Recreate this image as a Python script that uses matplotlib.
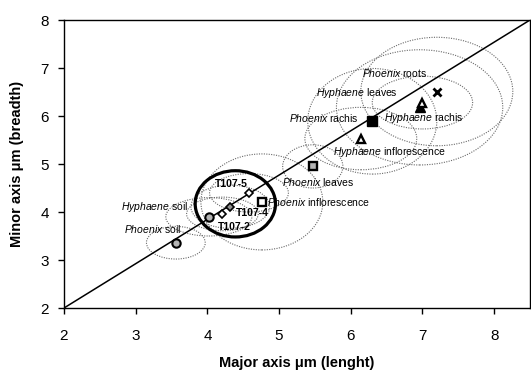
import matplotlib
matplotlib.use("Agg")
import matplotlib.pyplot as plt
from matplotlib.patches import Ellipse

plt.rcParams['font.family'] = ['Liberation Sans', 'DejaVu Sans']
plt.rcParams['mathtext.fontset'] = 'custom'
plt.rcParams['mathtext.it'] = 'Liberation Sans:italic'
plt.rcParams['mathtext.rm'] = 'Liberation Sans'

# Mean grain dimensions (µm) and their standard deviations
samples = ["Phoenix soil", "Hyphaene soil", "T107-2", "T107-4", "T107-5",
           "Phoenix inflorescence", "Phoenix leaves", "Hyphaene inflorescence",
           "Phoenix rachis", "Hyphaene rachis", "Hyphaene leaves", "Phoenix roots"]
major_mean = [3.56, 4.02, 4.21, 4.32, 4.58, 4.76, 5.47, 6.14, 6.30, 6.96, 7.00, 7.20]
minor_mean = [3.36, 3.90, 3.96, 4.11, 4.40, 4.21, 4.95, 5.53, 5.89, 6.18, 6.28, 6.51]
major_sd = [0.41, 0.60, 0.50, 0.55, 0.55, 0.85, 0.42, 0.78, 0.90, 1.16, 0.70, 1.06]
minor_sd = [0.34, 0.40, 0.35, 0.45, 0.40, 1.00, 0.45, 0.65, 1.10, 1.20, 0.55, 1.13]

# Archaeological T107 group envelope
t107_center = (4.39, 4.17)
t107_half = (0.56, 0.69)

# Reference line
line_x = [2.0, 8.5]
line_y = [2.0, 8.0]

styles = {
    "Phoenix soil": dict(marker='o', ms=6, mfc='#b4b4b4', mec='black', mew=1.5),
    "Hyphaene soil": dict(marker='o', ms=6, mfc='#b4b4b4', mec='black', mew=1.5),
    "T107-2": dict(marker='D', ms=4.5, mfc='white', mec='black', mew=1.2),
    "T107-4": dict(marker='D', ms=4.5, mfc='#909090', mec='black', mew=1.2),
    "T107-5": dict(marker='D', ms=4.5, mfc='white', mec='black', mew=1.2),
    "Phoenix inflorescence": dict(marker='s', ms=6, mfc='white', mec='black', mew=1.7),
    "Phoenix leaves": dict(marker='s', ms=6, mfc='#b4b4b4', mec='black', mew=1.7),
    "Hyphaene inflorescence": dict(marker='^', ms=6, mfc='white', mec='black', mew=1.7),
    "Phoenix rachis": dict(marker='s', ms=7, mfc='black', mec='black', mew=1),
    "Hyphaene rachis": dict(marker='^', ms=7, mfc='black', mec='black', mew=1),
    "Hyphaene leaves": dict(marker='^', ms=6, mfc='white', mec='black', mew=1.7),
    "Phoenix roots": dict(marker='x', ms=5.5, mfc='black', mec='black', mew=2.0),
}

label_pos = {
    "Phoenix roots": (6.61, 6.90),
    "Hyphaene leaves": (6.09, 6.48),
    "Phoenix rachis": (5.62, 5.96),
    "Hyphaene rachis": (7.02, 5.96),
    "Hyphaene inflorescence": (6.54, 5.25),
    "Phoenix leaves": (5.54, 4.63),
    "Phoenix inflorescence": (5.55, 4.21),
    "Hyphaene soil": (3.27, 4.10),
    "Phoenix soil": (3.23, 3.65),
    "T107-5": (4.34, 4.58),
    "T107-4": (4.62, 3.98),
    "T107-2": (4.37, 3.69),
}

fig = plt.figure(figsize=(5.31, 3.74), dpi=100)
ax = fig.add_axes([64 / 531, 66 / 374, 466 / 531, 288 / 374])

for name, mx, my, sx, sy in zip(samples, major_mean, minor_mean, major_sd, minor_sd):
    ax.add_patch(Ellipse((mx, my), 2 * sx, 2 * sy, fill=False,
                         edgecolor='#6a6a6a', linestyle=(0, (1, 1.2)), linewidth=0.8, zorder=1))

ax.add_patch(Ellipse(t107_center, 2 * t107_half[0], 2 * t107_half[1], fill=False,
                     edgecolor='black', linewidth=2.3, zorder=3))

ax.plot(line_x, line_y, color='black', linewidth=1.1, zorder=2)

for name, mx, my in zip(samples, major_mean, minor_mean):
    ax.plot([mx], [my], linestyle='none', zorder=5, **styles[name])

for name in samples:
    lx, ly = label_pos[name]
    if name.startswith("T107"):
        ax.text(lx, ly, name, fontsize=7.5, fontweight='bold', ha='center', va='center', zorder=6)
    else:
        genus, part = name.split(" ", 1)
        ax.text(lx, ly, r'$\mathit{%s}$ %s' % (genus, part), fontsize=7.5,
                ha='center', va='center', zorder=6)

ax.set_xlim(2, 8.5)
ax.set_ylim(2, 8)
ax.set_xticks([2, 3, 4, 5, 6, 7, 8])
ax.set_yticks([2, 3, 4, 5, 6, 7, 8])
ax.tick_params(labelsize=11, length=4, width=1, direction='out')
ax.tick_params(axis='x', pad=11)
ax.tick_params(axis='y', pad=7)
for s in ax.spines.values():
    s.set_linewidth(1)

ax.set_xlabel('Major axis μm (lenght)', fontsize=10.5, fontweight='bold')
ax.set_ylabel('Minor axis μm (breadth)', fontsize=10.5, fontweight='bold')
ax.xaxis.set_label_coords(0.5, -0.168)
ax.yaxis.set_label_coords(-0.086, 0.5)

fig.savefig('out.png', dpi=100)
